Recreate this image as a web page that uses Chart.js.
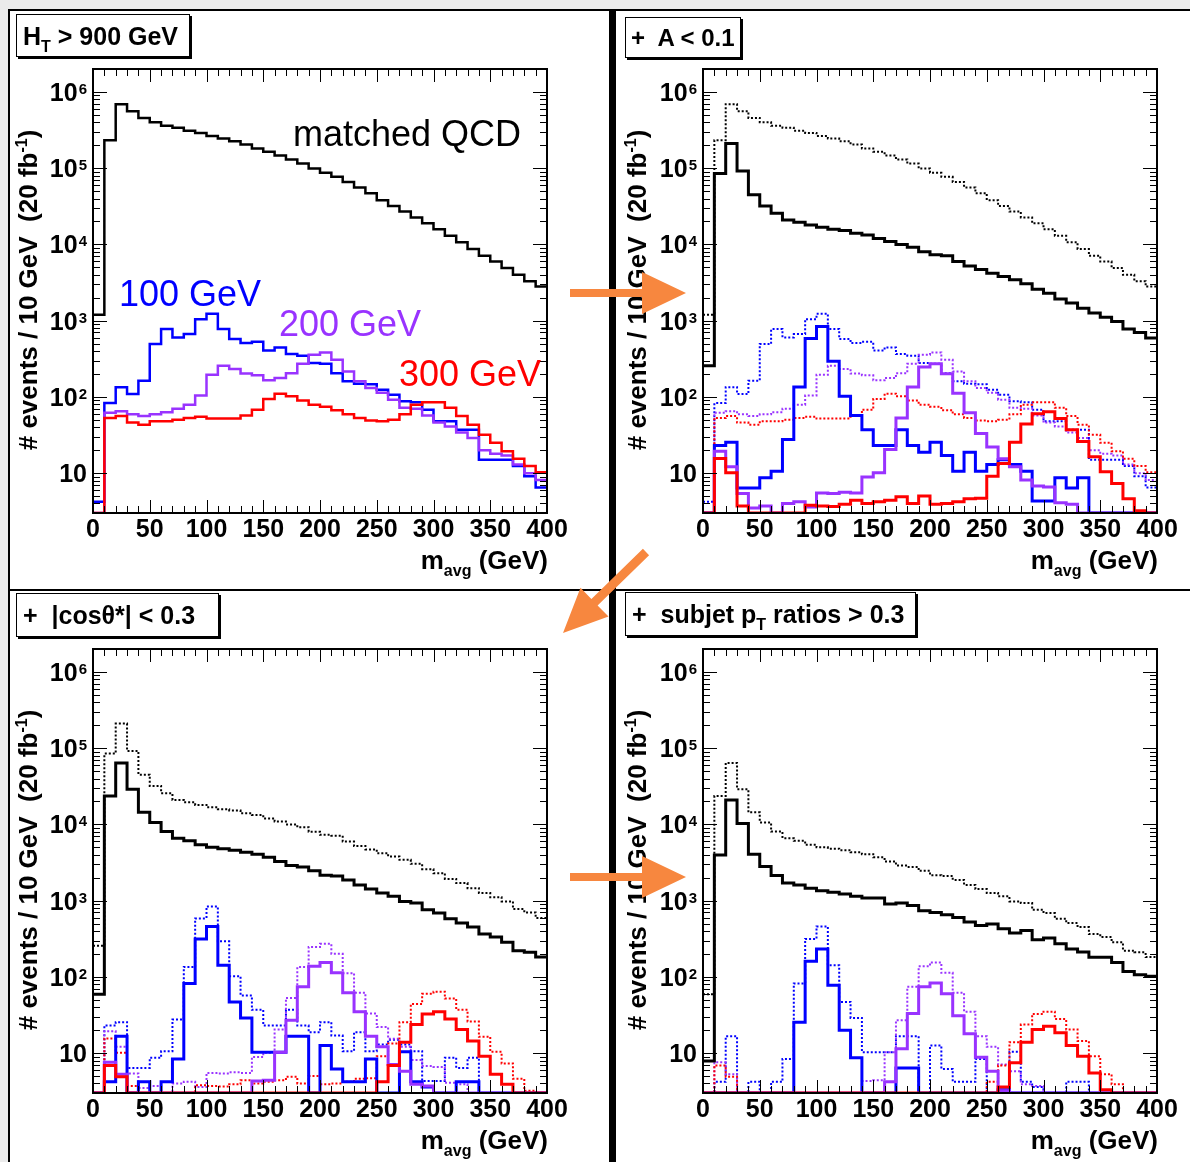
<!DOCTYPE html>
<html><head><meta charset="utf-8">
<script src="https://cdn.jsdelivr.net/npm/chart.js@4.4.1/dist/chart.umd.min.js"></script>
<style>
html,body{margin:0;padding:0;}
body{width:1190px;height:1162px;background:#ebebeb;position:relative;overflow:hidden;font-family:"Liberation Sans",Arial,Helvetica,sans-serif;color:#000;}
#sheet{position:absolute;left:8px;top:9px;width:1200px;height:1200px;background:#fff;border-left:2px solid #000;border-top:2px solid #000;}
#vdiv{position:absolute;left:609px;top:10px;width:7px;height:1160px;background:#000;}
#hdiv{position:absolute;left:9px;top:589px;width:1190px;height:2px;background:#000;}
canvas{position:absolute;}
.box{position:absolute;background:#fff;border:1px solid #000;box-shadow:2px 2px 0 #000;font-weight:bold;font-size:25px;line-height:1;white-space:nowrap;box-sizing:border-box;padding-left:6px;padding-top:9px;}
.sb{font-size:16px;position:relative;top:7px;}
.ytitle{position:absolute;font-weight:bold;font-size:26px;white-space:nowrap;line-height:1;transform:translate(-50%,-50%) rotate(-90deg);}
.sp{font-size:16px;position:relative;top:-10px;}
.xtitle{position:absolute;font-weight:bold;font-size:26px;white-space:nowrap;line-height:1;transform:translateX(-100%);}
.ann{position:absolute;font-size:36px;line-height:1;white-space:nowrap;}
</style></head>
<body>
<div id="sheet"></div>
<div id="vdiv"></div>
<div id="hdiv"></div>
<canvas id="cTL" width="608" height="590" style="left:0px;top:0px"></canvas>
<canvas id="cTR" width="572" height="590" style="left:618px;top:0px"></canvas>
<canvas id="cBL" width="608" height="572" style="left:0px;top:590px"></canvas>
<canvas id="cBR" width="572" height="572" style="left:618px;top:590px"></canvas>

<div class="box" style="left:16px;top:14px;width:174px;height:43px;">H<span class="sb">T</span>&nbsp;&gt; 900 GeV</div>
<div class="box" style="left:625px;top:17px;width:116px;height:41px;padding-top:8px;padding-left:5px;font-size:24px;">+&nbsp; A &lt; 0.1</div>
<div class="box" style="left:16px;top:593px;width:203px;height:44px;">+&nbsp; |cosθ*| &lt; 0.3</div>
<div class="box" style="left:625px;top:592px;width:291px;height:44px;">+&nbsp; subjet p<span class="sb">T</span>&nbsp;ratios &gt; 0.3</div>

<div class="ytitle" style="left:28px;top:290px;"># events / 10 GeV&nbsp; (20 fb<span class="sp">-1</span>)</div>
<div class="ytitle" style="left:637px;top:290px;"># events / 10 GeV&nbsp; (20 fb<span class="sp">-1</span>)</div>
<div class="ytitle" style="left:28px;top:870px;"># events / 10 GeV&nbsp; (20 fb<span class="sp">-1</span>)</div>
<div class="ytitle" style="left:637px;top:870px;"># events / 10 GeV&nbsp; (20 fb<span class="sp">-1</span>)</div>

<div class="xtitle" style="left:548px;top:547px;">m<span class="sb">avg</span> (GeV)</div>
<div class="xtitle" style="left:1158px;top:547px;">m<span class="sb">avg</span> (GeV)</div>
<div class="xtitle" style="left:548px;top:1127px;">m<span class="sb">avg</span> (GeV)</div>
<div class="xtitle" style="left:1158px;top:1127px;">m<span class="sb">avg</span> (GeV)</div>

<div class="ann" style="left:293px;top:116px;color:#000;">matched QCD</div>
<div class="ann" style="left:119px;top:276px;color:#0000ff;">100 GeV</div>
<div class="ann" style="left:279px;top:306px;color:#9933ff;">200 GeV</div>
<div class="ann" style="left:399px;top:356px;color:#ff0000;">300 GeV</div>

<svg width="1190" height="1162" style="position:absolute;left:0;top:0;z-index:5;pointer-events:none">
  <g fill="#f7873f">
    <polygon points="570,289 642,289 642,272 686,293 642,314 642,297 570,297"/>
    <polygon points="642.9,548.8 591.4,599.1 580.5,587.7 563,633 608.5,616.6 597.6,605.5 649.1,555.2"/>
    <polygon points="570,873 642,873 642,856 686,877 642,898 642,881 570,881"/>
  </g>
</svg>

<script>
// ---------------- data ----------------
const xEdges = [0,10,20,30,40,50,60,70,80,90,100,110,120,130,140,150,160,170,180,190,200,
                210,220,230,240,250,260,270,280,290,300,310,320,330,340,350,360,370,380,390,400];
const xTickValues = [0,50,100,150,200,250,300,350,400];
const xTickLabels = ['0','50','100','150','200','250','300','350','400'];
const yDecades = [10,100,1000,10000,100000,1000000];
const yDecadeBase = ['10','10','10','10','10','10'];
const yDecadeExp = ['','2','3','4','5','6'];
const Y_MIN = 3, Y_MAX = 2e6;

// Stage 1: H_T > 900 GeV
const qcd_HT  = [1200,233000,690000,560000,457000,400000,360000,340000,310000,290000,265000,245000,226000,205000,181000,164000,147000,130000,115000,99000,87000,77000,66000,56000,47000,38000,32000,27000,22600,18900,15800,13000,10700,8700,7100,5960,4900,4000,3300,2800];
const m100_HT = [4.2,83,134,109,163,493,775,603,666,1047,1230,775,573,508,528,407,446,365,347,278,272,205,160,149,146,124,107,88,85,68,48,48,37,37,15,15,15,12.4,9.1,6.5];
const m200_HT = [0,62,65,59,56,59,63,70,79,104,195,256,232,202,192,165,177,205,272,357,383,307,216,160,131,113,92,72,70,57,46,41,34,29,20,18,17,13,10,8.1];
const m300_HT = [0,53,56,46,43,48,48,50,53,55,52,52,52,57,68,94,110,102,90,79,74,67,59,53,49,48,50,59,79,85,85,72,56,43,32,25,19.4,15.4,12.4,10.3];
// Stage 2: + A < 0.1
const qcd_A  = [256,85000,210000,92000,45000,32000,25600,20900,19500,18000,16800,15800,15200,14000,13300,12000,10900,10000,9200,8000,7300,7100,5960,5200,4700,4200,3800,3430,3040,2590,2290,1930,1700,1460,1260,1110,977,775,701,591];
const m100_A = [0,23,25.5,6.4,6.4,8.7,10.6,27.6,135,585,840,293,102,57,37,23,23,37,23,18.8,25.5,17,10.6,18.8,10.6,13,15,13,10.6,4.3,4.3,8.7,6.4,8.7,0,0,0,0,0,0];
const m200_A = [0,19.4,12.1,5.4,3.5,3.7,0,4.0,4.2,3.6,5.5,5.4,5.6,5.5,8.9,10.1,20.4,53,135,247,272,201,112,62,33,22,15.4,12.1,8.1,6.8,6.6,4.1,3.9,0,0,0,0,0,0,0];
const m300_A = [0,15.6,10.1,3.7,0,0,0,0,0,3.8,3.7,3.65,3.9,4.4,4.0,4.2,4.4,4.9,4.0,5.0,3.9,4.0,4.2,4.6,4.7,9.1,13.4,25.5,44,60,64,52,37,26,16.4,10.4,7.3,4.6,3.2,0];
// Stage 3: + |cos theta*| < 0.3
const qcd_cos  = [59,23600,64000,29000,14400,10600,8050,6600,6100,5400,5000,4800,4600,4300,4060,3700,3260,2890,2770,2460,2160,2110,1870,1610,1420,1260,1140,977,929,759,687,579,508,451,365,333,284,221,210,182];
const m100_cos = [0,4.2,16.7,0,4.2,0,4.2,8.4,82,314,459,142,47,29,10.3,10.3,10.3,16.7,16.7,0,12.6,6.2,4.2,4.2,8.4,0,0,10.4,4.2,3.6,0,0,4.2,4.2,0,0,0,0,0,0];
const m200_cos = [0,7.6,5.3,0,0,0,0,0,0,0,0,0,0,0,4.3,4.4,10.3,27,74,138,155,113,62,35,16.7,12.1,7.1,5.8,3.9,3.7,0,0,0,0,0,0,0,0,0,0];
const m300_cos = [0,6.9,4.9,0,0,0,0,0,0,0,0,0,0,0,0,0,0,0,0,0,0,0,0,0,0,4.2,6.9,13.9,23.7,32.7,35,28,20.4,14.4,9.1,5.3,3.9,0,0,0];
// Stage 4: + subjet pT ratios > 0.3
const qcd_pT  = [7.9,3980,20900,10300,4060,2800,2140,1700,1610,1460,1350,1290,1220,1140,1080,1080,902,929,865,736,701,653,603,524,473,493,428,376,407,307,323,272,232,212,181,181,155,118,107,102];
const m100_pT = [0,0,0,0,0,0,0,0,25.5,160,232,78,20,8.7,0,0,0,6.4,6.4,0,0,0,0,0,0,0,3.3,0,0,0,0,0,0,0,0,0,0,0,0,0];
const m200_pT = [0,0,0,0,0,0,0,0,0,0,0,0,0,0,0,0,4.2,11.4,33,74,83,60,31,17.9,8.8,5.8,3.2,0,0,0,0,0,0,0,0,0,0,0,0,0];
const m300_pT = [0,0,0,0,0,0,0,0,0,0,0,0,0,0,0,0,0,0,0,0,0,0,0,0,0,0,3.6,7.5,13.9,20.4,22.6,18.5,12.6,9.1,5.5,3.3,0,0,0,0];

const seriesColors = ['#000000','#0000ff','#9933ff','#ff0000'];

// ---------------- helpers ----------------
function histPoints(vals){
  const pts = vals.map((v,i)=>({x:xEdges[i], y:Math.max(v,Y_MIN)}));
  pts.push({x:xEdges[xEdges.length-1], y:Math.max(vals[vals.length-1],Y_MIN)});
  return pts;
}

const FONT = '"Liberation Sans", Arial, Helvetica, sans-serif';

const framePlugin = {
  id:'rootFrame',
  afterDraw(chart){
    const ctx = chart.ctx, a = chart.chartArea;
    const xs = chart.scales.x, ys = chart.scales.y;
    ctx.save();
    ctx.strokeStyle = '#000';
    ctx.lineWidth = 1;
    const L = Math.round(a.left), R = Math.round(a.right), T = Math.round(a.top), B = Math.round(a.bottom);
    ctx.beginPath();
    for (let v = 0; v <= 400; v += 10){
      const px = Math.round(xs.getPixelForValue(v)) + 0.5;
      const len = (v % 50 === 0) ? 13 : 7;
      ctx.moveTo(px, B); ctx.lineTo(px, B - len);
      ctx.moveTo(px, T); ctx.lineTo(px, T + len);
    }
    for (let e = 0; e <= 6; e++){
      for (let k = 1; k <= 9; k++){
        const v = k * Math.pow(10, e);
        if (v < Y_MIN || v > Y_MAX) continue;
        const py = Math.round(ys.getPixelForValue(v)) + 0.5;
        const len = (k === 1) ? 14 : 7;
        ctx.moveTo(L, py); ctx.lineTo(L + len, py);
        ctx.moveTo(R, py); ctx.lineTo(R - len, py);
      }
    }
    ctx.stroke();
    ctx.lineWidth = 2;
    ctx.strokeRect(L, T, R - L, B - T);
    // y decade labels
    ctx.fillStyle = '#000';
    ctx.textAlign = 'right';
    ctx.textBaseline = 'alphabetic';
    const xr = L - 6;
    yDecades.forEach((d, i) => {
      const py = ys.getPixelForValue(d);
      let x = xr;
      if (yDecadeExp[i]){
        ctx.font = 'bold 15px ' + FONT;
        ctx.fillText(yDecadeExp[i], x, py + 2);
        x -= ctx.measureText(yDecadeExp[i]).width + 1;
      }
      ctx.font = 'bold 25px ' + FONT;
      ctx.fillText(yDecadeBase[i], x, py + 9);
    });
    ctx.restore();
  }
};

const PANELS = [
  {id:'cTL', left:0,   top:0,   w:608, h:590, area:{l:93, t:69, r:547, b:513},
   solid:[qcd_HT,m100_HT,m200_HT,m300_HT], dotted:null, lw:2.5},
  {id:'cTR', left:618, top:0,   w:572, h:590, area:{l:703,t:69, r:1157,b:513},
   solid:[qcd_A,m100_A,m200_A,m300_A], dotted:[qcd_HT,m100_HT,m200_HT,m300_HT], lw:3},
  {id:'cBL', left:0,   top:590, w:608, h:572, area:{l:93, t:649,r:547, b:1093},
   solid:[qcd_cos,m100_cos,m200_cos,m300_cos], dotted:[qcd_A,m100_A,m200_A,m300_A], lw:3},
  {id:'cBR', left:618, top:590, w:572, h:572, area:{l:703,t:649,r:1157,b:1093},
   solid:[qcd_pT,m100_pT,m200_pT,m300_pT], dotted:[qcd_cos,m100_cos,m200_cos,m300_cos], lw:3}
];

PANELS.forEach(p => {
  const datasets = [];
  for (let s = 3; s >= 0; s--){
    datasets.push({data:histPoints(p.solid[s]), borderColor:seriesColors[s], borderWidth:p.lw,
                   stepped:'before', pointRadius:0, fill:false, tension:0});
  }
  if (p.dotted){
    for (let s = 3; s >= 0; s--){
      datasets.push({data:histPoints(p.dotted[s]), borderColor:seriesColors[s], borderWidth:2,
                     borderDash:[2,2], stepped:'before', pointRadius:0, fill:false, tension:0});
    }
  }
  const yW = p.area.l - p.left;
  const xH = (p.top + p.h) - p.area.b;
  new Chart(document.getElementById(p.id), {
    type:'line',
    data:{datasets},
    options:{
      responsive:false, animation:false, devicePixelRatio:1,
      layout:{padding:{left:0, top:p.area.t - p.top, right:(p.left + p.w) - p.area.r, bottom:0}},
      plugins:{legend:{display:false}, tooltip:{enabled:false}, title:{display:false}},
      scales:{
        x:{type:'linear', min:0, max:400,
           grid:{display:false, drawTicks:false}, border:{display:false},
           ticks:{stepSize:50, autoSkip:false, maxRotation:0, minRotation:0, padding:2, color:'#000',
                  font:{family:FONT, size:25, weight:'bold'},
                  callback:(v)=>{ const i = xTickValues.indexOf(v); return i >= 0 ? xTickLabels[i] : ''; }},
           afterFit:(s)=>{ s.height = xH; }},
        y:{type:'logarithmic', min:Y_MIN, max:Y_MAX,
           grid:{display:false, drawTicks:false}, border:{display:false},
           ticks:{display:false},
           afterFit:(s)=>{ s.width = yW; }}
      }
    },
    plugins:[framePlugin]
  });
});
</script>
</body></html>
